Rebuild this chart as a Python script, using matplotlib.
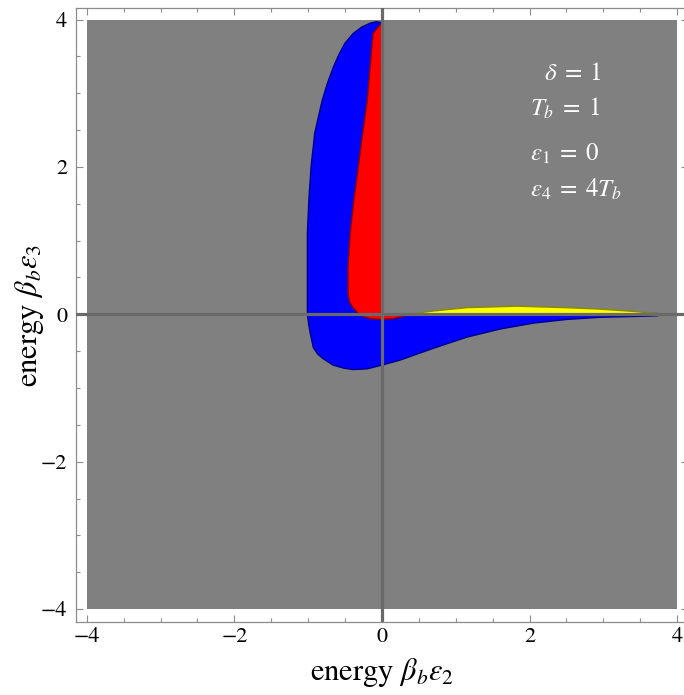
import numpy as np
import matplotlib
matplotlib.use('Agg')
import matplotlib.pyplot as plt
from matplotlib.patches import Rectangle, Polygon

# ------------------------------------------------------------
# data (beta_b*eps2, beta_b*eps3)
# ------------------------------------------------------------
plot_range = (-4.0, 4.0)
ticks = [-4, -2, 0, 2, 4]

# blue region outline (anticlockwise from the top tip)
blue_x = [0.0, -0.08, -0.16, -0.27, -0.39, -0.50, -0.58, -0.66, -0.74, -0.81, -0.91, -0.96,
          -0.99, -1.01, -1.01, -1.01, -1.01, -0.99, -0.97, -0.93, -0.87, -0.80, -0.66,
          -0.52, -0.39, -0.20, 0.0, 0.25, 0.70, 1.15, 1.60, 2.05, 2.50, 2.96, 3.40,
          3.74, 3.74, 3.30, 0.0]
blue_y = [3.96, 3.97, 3.95, 3.90, 3.81, 3.68, 3.53, 3.35, 3.13, 2.90, 2.46, 2.00,
          1.55, 1.10, 0.64, 0.19, 0.0, -0.15, -0.26, -0.45, -0.54, -0.60, -0.69,
          -0.73, -0.75, -0.74, -0.69, -0.62, -0.46, -0.31, -0.20, -0.12, -0.07, -0.04, -0.03,
          -0.02, 0.01, 0.01, 0.0]

# red region outline
red_x = [0.0, -0.05, -0.12, -0.16, -0.20, -0.26, -0.32, -0.38, -0.43, -0.46, -0.46,
         -0.44, -0.40, -0.30, -0.16, -0.02, 0.15, 0.28, 0.35, 0.0]
red_y = [3.95, 3.90, 3.81, 3.35, 2.90, 2.46, 2.00, 1.55, 1.10, 0.64, 0.28,
         0.17, 0.10, -0.01, -0.06, -0.07, -0.06, -0.03, 0.0, 0.0]

# yellow region outline
yellow_x = [0.42, 0.70, 1.15, 1.83, 2.50, 2.96, 3.40, 3.73, 3.73, 0.42]
yellow_y = [0.01, 0.045, 0.09, 0.11, 0.09, 0.07, 0.04, 0.01, -0.01, -0.01]

params = [r'$\delta\;=\;1$', r'$T_b\;=\;1$', r'$\epsilon_1\;=\;0$', r'$\epsilon_4\;=\;4 T_b$']
params_x = [2.19, 2.01, 2.01, 2.01]
params_y = [3.18, 2.70, 2.09, 1.59]

plt.rcParams['mathtext.fontset'] = 'stix'
plt.rcParams['font.family'] = ['STIXGeneral']
plt.rcParams['axes.unicode_minus'] = True

fig = plt.figure(figsize=(6.84, 6.95), dpi=100)
ax = fig.add_axes([0.1104, 0.1050, 0.8959, 0.8833])

lo, hi = plot_range
ax.add_patch(Rectangle((lo, lo), hi - lo, hi - lo, facecolor='#808080',
                       edgecolor='none', zorder=1))
ax.add_patch(Polygon(np.column_stack([blue_x, blue_y]), closed=True,
                     facecolor='#0000ff', edgecolor='#00008a', lw=1.0, zorder=2))
ax.add_patch(Polygon(np.column_stack([red_x, red_y]), closed=True,
                     facecolor='#ff0000', edgecolor='#8a0000', lw=1.0, zorder=3))
ax.add_patch(Polygon(np.column_stack([yellow_x, yellow_y]), closed=True,
                     facecolor='#ffff00', edgecolor='#8a8a00', lw=1.0, zorder=3))

# axes through the origin
ax.axhline(0, color='#6a6a6a', lw=2.3, zorder=4)
ax.axvline(0, color='#6a6a6a', lw=2.3, zorder=4)

for s, xx, yy in zip(params, params_x, params_y):
    ax.text(xx, yy, s, color='white', fontsize=18, va='baseline', ha='left', zorder=5)

ax.set_xlim(-4.152, 4.152)
ax.set_ylim(-4.176, 4.155)
ax.set_xticks(ticks)
ax.set_yticks(ticks)
ax.set_xticks(np.arange(-4, 4.01, 0.5), minor=True)
ax.set_yticks(np.arange(-4, 4.01, 0.5), minor=True)
ax.tick_params(which='both', direction='in', top=True, right=True, color='#8c8c8c',
               labelsize=16, width=0.8)
ax.tick_params(which='major', length=5)
ax.tick_params(which='minor', length=3)
ax.tick_params(axis='x', pad=4)
ax.tick_params(axis='y', pad=6)
for sp in ax.spines.values():
    sp.set_color('#8c8c8c')
    sp.set_linewidth(0.9)
ax.spines['right'].set_visible(False)

ax.set_xlabel(r'energy $\beta_b\epsilon_2$', fontsize=22, labelpad=6)
ax.set_ylabel(r'energy $\beta_b\epsilon_3$', fontsize=22, labelpad=-4)

fig.savefig('out.png', dpi=100)
